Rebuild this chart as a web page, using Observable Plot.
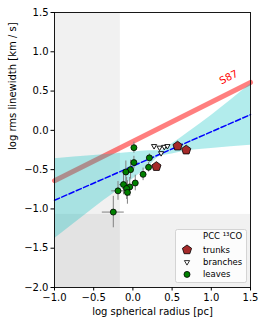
<!DOCTYPE html>
<html><head><meta charset="utf-8">
<script src="https://cdn.jsdelivr.net/npm/d3@7"></script>
<script src="https://cdn.jsdelivr.net/npm/@observablehq/plot@0.6"></script>
<style>
html,body{margin:0;padding:0;background:#fff;}
#chart{position:relative;width:266px;height:326px;}
svg{font-family:"DejaVu Sans",sans-serif;}
</style></head>
<body><div id="chart"></div>
<script>
// ---- data ----
const xTicks = [-1.0, -0.5, 0.0, 0.5, 1.0, 1.5];
const yTicks = [-2.0, -1.5, -1.0, -0.5, 0.0, 0.5, 1.0, 1.5];
const limitRadius = -0.16;      // shaded (unresolved) radius limit
const limitLinewidth = -1.07;   // shaded linewidth limit

const s87X = [-1.0, 1.5];
const s87Y = [-0.64, 0.61];

const fitX = [-1.0, 1.5];
const fitY = [-0.89, 0.20];

const bandX  = [-1.0, -0.5, 0.0, 0.2, 0.35, 0.5, 0.7, 1.0, 1.5];
const bandHi = [-0.36, -0.32, -0.28, -0.26, -0.26, -0.17, -0.03, 0.19, 0.59];
const bandLo = [-1.38, -0.99, -0.62, -0.46, -0.33, -0.30, -0.26, -0.23, -0.19];

const trunkX = [0.30, 0.57, 0.68];
const trunkY = [-0.46, -0.20, -0.25];

const branchX = [0.27, 0.34, 0.40, 0.44, 0.36];
const branchY = [-0.20, -0.22, -0.21, -0.20, -0.29];

const leafX    = [0.013, 0.013, 0.21, 0.20, 0.13, -0.03, -0.09, 0.03, -0.12, -0.04, -0.08, -0.19, -0.07, -0.25];
const leafY    = [-0.22, -0.41, -0.35, -0.47, -0.56, -0.50, -0.53, -0.67, -0.69, -0.72, -0.74, -0.77, -0.79, -1.04];
const leafXErr = [0.03, 0.03, 0.02, 0.02, 0.03, 0.05, 0.05, 0.04, 0.05, 0.05, 0.05, 0.08, 0.05, 0.14];
const leafYErr = [0.07, 0.08, 0.05, 0.06, 0.08, 0.12, 0.14, 0.10, 0.13, 0.12, 0.14, 0.12, 0.15, 0.20];

const legendTitle = "PCC ¹³CO";
const legendLabels = ["trunks", "branches", "leaves"];

// ---- tables ----
const band = bandX.map((x, i) => ({x, lo: bandLo[i], hi: bandHi[i]}));
const s87 = s87X.map((x, i) => ({x, y: s87Y[i]}));
const fit = fitX.map((x, i) => ({x, y: fitY[i]}));
const trunks = trunkX.map((x, i) => ({x, y: trunkY[i]}));
const branches = branchX.map((x, i) => ({x, y: branchY[i]}));
const leaves = leafX.map((x, i) => ({x, y: leafY[i], xe: leafXErr[i], ye: leafYErr[i]}));
const shade = [
  {x1: -1.0, x2: limitRadius, y1: -2.0, y2: 1.5},
  {x1: -1.0, x2: 1.5, y1: -2.0, y2: limitLinewidth}
];

// ---- custom symbols ----
const pentagon = {draw(ctx, size) {
  const r = Math.sqrt(size / Math.PI) * 1.15;
  for (let k = 0; k < 5; k++) {
    const a = -Math.PI / 2 + k * 2 * Math.PI / 5;
    const px = r * Math.cos(a), py = r * Math.sin(a);
    if (k === 0) ctx.moveTo(px, py); else ctx.lineTo(px, py);
  }
  ctx.closePath();
}};
const triDown = {draw(ctx, size) {
  const r = Math.sqrt(size / Math.PI) * 1.2;
  ctx.moveTo(-r * 0.866, -r * 0.5);
  ctx.lineTo(r * 0.866, -r * 0.5);
  ctx.lineTo(0, r);
  ctx.closePath();
}};

const fmt = d => d3.format(".1f")(d).replace("-", "\u2212");

const plot = Plot.plot({
  width: 266, height: 326,
  marginTop: 12, marginRight: 16, marginBottom: 39, marginLeft: 54,
  style: {fontFamily: "DejaVu Sans, sans-serif", fontSize: "10px", background: "#fff", color: "#000"},
  x: {domain: [-1, 1.5]},
  y: {domain: [-2, 1.5]},
  marks: [
    Plot.rect(shade, {x1: "x1", x2: "x2", y1: "y1", y2: "y2", fill: "#000", fillOpacity: 0.055}),
    Plot.line(s87, {x: "x", y: "y", stroke: "red", strokeOpacity: 0.5, strokeWidth: 5}),
    Plot.areaY(band, {x: "x", y1: "lo", y2: "hi", fill: "#00bfbf", fillOpacity: 0.3, curve: "monotone-x"}),
    Plot.line(fit, {x: "x", y: "y", stroke: "blue", strokeWidth: 1.5, strokeDasharray: "5.5,2.4"}),
    Plot.ruleX(leaves, {x: "x", y1: d => d.y - d.ye, y2: d => d.y + d.ye, stroke: "#808080", strokeWidth: 1}),
    Plot.ruleY(leaves, {y: "y", x1: d => d.x - d.xe, x2: d => d.x + d.xe, stroke: "#808080", strokeWidth: 1}),
    Plot.dot(branches, {x: "x", y: "y", symbol: triDown, r: 2.5, fill: "white", stroke: "black", strokeWidth: 0.9}),
    Plot.dot(leaves, {x: "x", y: "y", r: 3, fill: "green", stroke: "black", strokeWidth: 0.8}),
    Plot.dot(trunks, {x: "x", y: "y", symbol: pentagon, r: 4.2, fill: "#a52a2a", stroke: "black", strokeWidth: 0.8}),
    Plot.text(["S87"], {frameAnchor: "top-right", dx: -15, dy: 57, rotate: -26.5, fill: "red", fontSize: 10, text: d => d}),
    Plot.frame({stroke: "black", strokeWidth: 0.9}),
    Plot.axisX(xTicks, {tickSize: 3.5, tickPadding: 2.5, tickFormat: fmt, label: null, fontSize: 10}),
    Plot.axisY(yTicks, {tickSize: 3.5, tickPadding: 2.5, tickFormat: fmt, label: null, fontSize: 10}),
    Plot.text(["log spherical radius [pc]"], {frameAnchor: "bottom", dy: 27, text: d => d, fontSize: 10}),
    Plot.text(["log rms linewidth [km / s]"], {frameAnchor: "left", dx: -42, rotate: -90, text: d => d, fontSize: 10})
  ]
});
document.getElementById("chart").appendChild(plot);

// ---- legend (layout inside the axes, lower right) ----
const svg = d3.select(plot);
const lg = svg.append("g").attr("transform", "translate(175.5,229.5)")
  .style("font-family", "DejaVu Sans, sans-serif").style("font-size", "8.5px")
  .attr("text-anchor", "start");
lg.append("rect").attr("width", 71).attr("height", 53).attr("rx", 2)
  .attr("fill", "white").attr("fill-opacity", 0.8).attr("stroke", "#cccccc").attr("stroke-width", 0.8);
lg.append("text").attr("x", 27.5).attr("y", 7).attr("dy", "0.35em").attr("text-anchor", "start").text(legendTitle);
const syms = [
  {type: pentagon, size: 4.2 * 4.2 * Math.PI, fill: "#a52a2a"},
  {type: triDown, size: 2.5 * 2.5 * Math.PI, fill: "white"},
  {type: d3.symbolCircle, size: 3 * 3 * Math.PI, fill: "green"}
];
legendLabels.forEach((lab, i) => {
  const yy = 20.3 + i * 12.3;
  lg.append("path").attr("d", d3.symbol(syms[i].type, syms[i].size)())
    .attr("transform", `translate(11.5,${yy})`).attr("fill", syms[i].fill)
    .attr("stroke", "black").attr("stroke-width", 0.8);
  lg.append("text").attr("x", 27.5).attr("y", yy).attr("dy", "0.35em").attr("text-anchor", "start").text(lab);
});
</script></body></html>
